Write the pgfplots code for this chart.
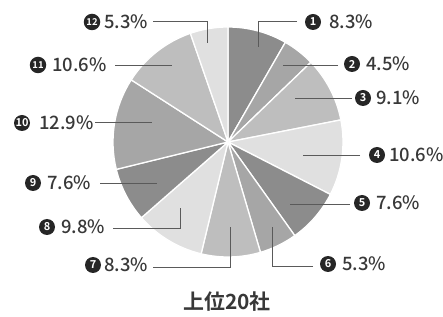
\documentclass[border=0pt]{standalone}
\usepackage{pgfplots}
\pgfplotsset{compat=1.18}
\usepackage{pgfplotstable}
\usepackage{fontspec}
\setmainfont{Noto Sans CJK JP}[UprightFont={* Medium}, BoldFont={* Bold}]
\definecolor{g0}{HTML}{8C8C8C}
\definecolor{g1}{HTML}{A6A6A6}
\definecolor{g2}{HTML}{BEBEBE}
\definecolor{g3}{HTML}{E0E0E0}
\definecolor{txt}{HTML}{383838}
\definecolor{ln}{HTML}{5A5A5A}

% share of each company (percent), clockwise from 12 o'clock
\pgfplotstableread{
idx val shade cx tx ly
1 8.3 0 313 329 22
2 4.5 1 352 366 64
3 9.1 2 363 376 98
4 10.6 3 377 389 155
5 7.6 0 362 376 203
6 5.3 1 328 342 264
7 8.3 2 93 104 265
8 9.8 3 47 61 227
9 7.6 0 33 47 183
10 12.9 1 22 39 123
11 10.6 2 38 52 65
12 5.3 3 92 104 22
}\piedata

\newcommand\setupslices{%
  \gdef\cumsum{0}%
  \foreach \i in {0,...,11}{%
    \pgfplotstablegetelem{\i}{val}\of{\piedata}%
    \let\v\pgfplotsretval
    \expandafter\xdef\csname vl\i\endcsname{\v}%
    \pgfmathsetmacro\a{90-\cumsum/99.9*360}%
    \pgfmathsetmacro\newcum{\cumsum+\v}%
    \pgfmathsetmacro\b{90-\newcum/99.9*360}%
    \expandafter\xdef\csname sa\i\endcsname{\a}%
    \expandafter\xdef\csname sb\i\endcsname{\b}%
    \pgfplotstablegetelem{\i}{shade}\of{\piedata}%
    \expandafter\xdef\csname sc\i\endcsname{g\pgfplotsretval}%
    \pgfplotstablegetelem{\i}{cx}\of{\piedata}%
    \expandafter\xdef\csname cx\i\endcsname{\pgfplotsretval}%
    \pgfplotstablegetelem{\i}{tx}\of{\piedata}%
    \expandafter\xdef\csname tx\i\endcsname{\pgfplotsretval}%
    \pgfplotstablegetelem{\i}{ly}\of{\piedata}%
    \pgfmathsetmacro\yy{317-\pgfplotsretval}%
    \expandafter\xdef\csname ly\i\endcsname{\yy}%
    \xdef\cumsum{\newcum}%
  }}

\begin{document}
\begin{tikzpicture}
\setupslices
\begin{axis}[
  scale only axis, width=443bp, height=317bp,
  xmin=0, xmax=443, ymin=0, ymax=317,
  hide axis, clip=false]
% wedges
\pgfplotsinvokeforeach{0,...,11}{
  \fill[fill=\csname sc#1\endcsname, draw=white, line width=1.3pt, line join=round]
    (axis cs:228,175) -- (axis cs:{228+115*cos(\csname sa#1\endcsname)},{175+115*sin(\csname sa#1\endcsname)})
    arc[start angle=\csname sa#1\endcsname, end angle=\csname sb#1\endcsname, radius=115] -- cycle;
}
% leader lines
\begin{scope}[draw=ln, line width=1.0pt]
\draw (axis cs:297,295) -- (axis cs:258,295) -- (axis cs:258,270);
\draw (axis cs:338,251) -- (axis cs:283,251);
\draw (axis cs:352,218) -- (axis cs:295,218);
\draw (axis cs:360,161) -- (axis cs:303,161);
\draw (axis cs:350,113) -- (axis cs:290,113);
\draw (axis cs:313,51) -- (axis cs:272,51) -- (axis cs:272,90);
\draw (axis cs:153,50) -- (axis cs:230,50) -- (axis cs:230,90);
\draw (axis cs:113,89) -- (axis cs:180,89) -- (axis cs:180,109);
\draw (axis cs:100,133) -- (axis cs:157,133);
\draw (axis cs:95,194) -- (axis cs:152,194);
\draw (axis cs:115,251) -- (axis cs:172,251);
\draw (axis cs:153,295) -- (axis cs:207,295) -- (axis cs:207,274);
\end{scope}
% labels
\pgfplotsinvokeforeach{0,...,9}{
  \node[circle, fill=black!85, text=white, inner sep=0pt, minimum size=16bp,
        font=\fontsize{11}{11}\selectfont\bfseries]
    at (axis cs:\csname cx#1\endcsname,\csname ly#1\endcsname) {\pgfmathparse{int(#1+1)}\pgfmathresult};
}
\pgfplotsinvokeforeach{10,11}{
  \node[circle, fill=black!85, text=white, inner sep=0pt, minimum size=16.5bp,
        font=\fontsize{9.5}{9.5}\selectfont\bfseries]
    at (axis cs:\csname cx#1\endcsname,\csname ly#1\endcsname) {\pgfmathparse{int(#1+1)}\pgfmathresult};
}
\pgfplotsinvokeforeach{0,...,11}{
  \node[anchor=west, inner sep=0pt, text=txt, font=\fontsize{18.5}{19}\selectfont]
    at (axis cs:\csname tx#1\endcsname,\csname ly#1\endcsname) {\csname vl#1\endcsname\%};
}
\node[text=txt, font=\fontsize{21}{22}\selectfont\bfseries] at (axis cs:227,15) {上位20社};
\end{axis}
\pgfresetboundingbox
\path (current axis.south west) rectangle (current axis.north east);
\end{tikzpicture}
\end{document}
